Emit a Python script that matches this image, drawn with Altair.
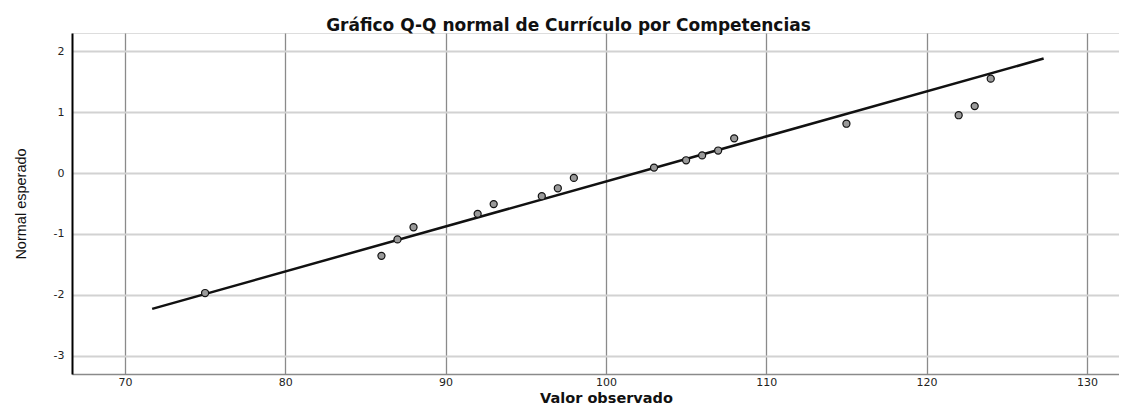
import altair as alt
import pandas as pd

observed = [75, 86, 87, 88, 92, 93, 96, 97, 98, 103, 105, 106, 107, 108, 115, 122, 123, 124]
expected = [-1.97, -1.36, -1.09, -0.89, -0.67, -0.51, -0.38, -0.25, -0.08,
            0.09, 0.21, 0.29, 0.37, 0.57, 0.81, 0.95, 1.10, 1.55]

# Reference line end points
line_x = [71.7, 127.3]
line_y = [-2.23, 1.88]

x_ticks = [70, 80, 90, 100, 110, 120, 130]
y_ticks = [-3, -2, -1, 0, 1, 2]

pts = pd.DataFrame({"obs": observed, "exp": expected})
ln = pd.DataFrame({"obs": line_x, "exp": line_y})

xscale = alt.Scale(domain=[66.7, 132.0], nice=False, zero=False)
yscale = alt.Scale(domain=[-3.3, 2.3], nice=False, zero=False)

xaxis = alt.Axis(
    title="Valor observado", values=x_ticks, grid=True, gridColor="#8a8a8a",
    gridWidth=1.3, ticks=False, domainColor="#8a8a8a", domainWidth=1.5,
    labelFont="DejaVu Sans", labelFontSize=11, labelColor="#222",
    labelPadding=2, labelExpr="datum.value + ''",
    titleFont="DejaVu Sans", titleFontWeight="bold",
    titleFontSize=14.5, titleColor="#111", titleX=534, titleY=28,
    titleBaseline="alphabetic", titleAlign="center")
yaxis = alt.Axis(
    title="Normal esperado", values=y_ticks, grid=True, gridColor="#d2d2d2",
    gridWidth=1.8, ticks=False, domainColor="#000", domainWidth=2,
    labelFont="DejaVu Sans", labelFontSize=11, labelColor="#222",
    labelPadding=8, labelExpr="datum.value + ''",
    titleFont="Liberation Sans", titleFontWeight="normal",
    titleFontSize=14.5, titleColor="#111", titleX=-47, titleY=170.5,
    titleAngle=-90, titleBaseline="alphabetic", titleAlign="center")

line = alt.Chart(ln).mark_line(color="#111", strokeWidth=2.5).encode(
    x=alt.X("obs:Q", scale=xscale, axis=xaxis),
    y=alt.Y("exp:Q", scale=yscale, axis=yaxis),
)
points = alt.Chart(pts).mark_point(
    shape="circle", filled=True, fill="#9a9a9a", stroke="#111",
    strokeWidth=1.2, size=50, opacity=1).encode(
    x=alt.X("obs:Q", scale=xscale),
    y=alt.Y("exp:Q", scale=yscale),
)

chart = alt.layer(line, points).properties(
    width=1047, height=341,
    title=alt.TitleParams(
        "Gráfico Q-Q normal de Currículo por Competencias",
        font="DejaVu Sans", fontSize=17, fontWeight="bold", color="#111",
        anchor="middle", dx=-27, dy=4, offset=2),
    autosize=alt.AutoSizeParams(type="none"),
    padding={"left": 64, "top": 25, "right": 0, "bottom": 32},
).configure_view(stroke=None).configure(background="white")

chart.save("out.html", embed_options={"renderer": "svg", "actions": False})
